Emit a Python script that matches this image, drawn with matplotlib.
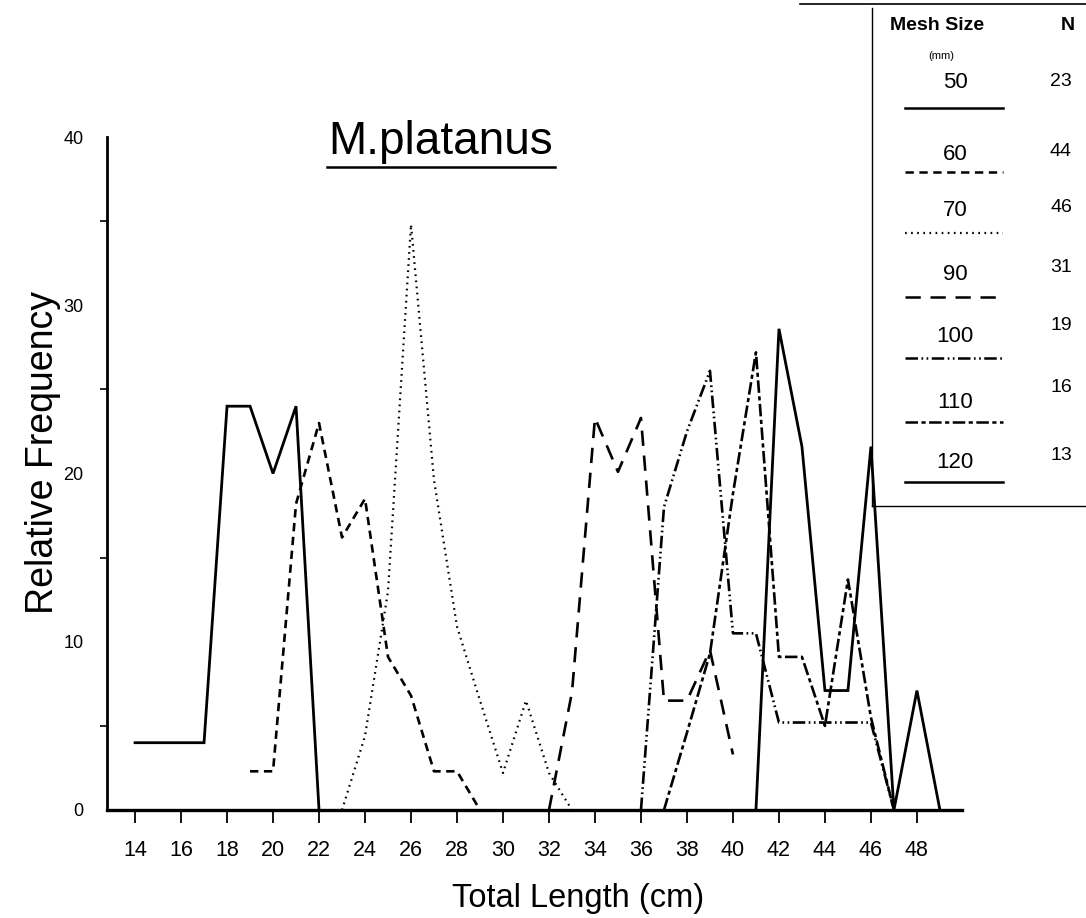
import matplotlib
matplotlib.use("Agg")
import matplotlib.pyplot as plt
from matplotlib.lines import Line2D
from matplotlib.transforms import IdentityTransform

plt.rcParams["font.family"] = ["Liberation Sans", "DejaVu Sans"]
plt.rcParams["lines.scale_dashes"] = False

# relative frequency (%) by total length (cm), one series per mesh size
len_50 = [14, 15, 16, 17, 18, 19, 20, 21, 22]
freq_50 = [4.0, 4.0, 4.0, 4.0, 24.0, 24.0, 20.0, 24.0, 0.0]
len_60 = [19, 20, 21, 22, 23, 24, 25, 26, 27, 28, 29]
freq_60 = [2.3, 2.3, 18.2, 23.0, 16.2, 18.5, 9.1, 6.8, 2.3, 2.3, 0.0]
len_70 = [23, 24, 25, 26, 27, 28, 29, 30, 31, 32, 33]
freq_70 = [0.0, 4.4, 13.0, 34.8, 19.6, 10.9, 6.5, 2.2, 6.5, 2.2, 0.0]
len_90 = [32, 33, 34, 35, 36, 37, 38, 39, 40]
freq_90 = [0.0, 7.0, 23.3, 20.1, 23.3, 6.5, 6.5, 9.5, 3.3]
len_100 = [36, 37, 38, 39, 40, 41, 42, 43, 44, 45, 46, 47]
freq_100 = [0.0, 18.0, 22.5, 26.1, 10.5, 10.5, 5.2, 5.2, 5.2, 5.2, 5.2, 0.0]
len_110 = [37, 38, 39, 40, 41, 42, 43, 44, 45, 46, 47]
freq_110 = [0.0, 4.6, 9.3, 18.8, 27.2, 9.1, 9.1, 5.0, 13.7, 5.5, 0.0]
len_120 = [41, 42, 43, 44, 45, 46, 47, 48, 49]
freq_120 = [0.0, 28.6, 21.6, 7.1, 7.1, 21.6, 0.0, 7.1, 0.0]

mesh_sizes = [50, 60, 70, 90, 100, 110, 120]
n_fish = [23, 44, 46, 31, 19, 16, 13]
x_ticks = list(range(14, 49, 2))
y_ticks = [0, 10, 20, 30, 40]

series = [(len_50, freq_50), (len_60, freq_60), (len_70, freq_70), (len_90, freq_90),
          (len_100, freq_100), (len_110, freq_110), (len_120, freq_120)]
styles = {
    50: dict(ls="-", lw=2.0),
    60: dict(ls=(0, (6, 4)), lw=1.9),
    70: dict(ls=(0, (1.2, 3.2)), lw=1.6),
    90: dict(ls=(0, (11, 7)), lw=1.9),
    100: dict(ls=(0, (9, 2.5, 1.2, 2.5, 1.2, 2.5)), lw=1.9),
    110: dict(ls=(0, (9, 2.5, 3, 2.5)), lw=1.9),
    120: dict(ls="-", lw=2.0),
}

W, H = 1086, 918
fig = plt.figure(figsize=(W / 100, H / 100), dpi=100)
ax = fig.add_axes([107 / W, 1 - 810 / H, (962 - 107) / W, (810 - 137) / H])

for m, (xs, ys) in zip(mesh_sizes, series):
    ax.plot(xs, ys, color="black", solid_joinstyle="miter", **styles[m])

ax.set_xlim(12.78, 49.96)
ax.set_ylim(0, 40)
for s in ("top", "right"):
    ax.spines[s].set_visible(False)
ax.spines["left"].set_linewidth(2.0)
ax.spines["bottom"].set_linewidth(2.4)

ax.set_xticks(x_ticks)
ax.set_xticklabels([str(v) for v in x_ticks], fontsize=15.5)
ax.tick_params(axis="x", direction="out", length=9.5, width=1.3, pad=12)
ax.set_yticks(y_ticks)
ax.set_yticklabels([str(v) for v in y_ticks], fontsize=13)
ax.tick_params(axis="y", which="major", length=0, pad=17)
ax.set_yticks([5, 15, 25, 35], minor=True)
ax.tick_params(axis="y", which="minor", direction="out", length=5, width=1.2)

fig.text(43 / W, 1 - 453 / H, "Relative Frequency", rotation=90, fontsize=27,
         ha="center", va="center")
fig.text(578 / W, 1 - 898 / H, "Total Length (cm)", fontsize=23.5, ha="center", va="center")
title = fig.text(441 / W, 1 - 142 / H, "M.platanus", fontsize=33, ha="center", va="center")

# overlay in pixel units for the key box and the title underline
ov = fig.add_axes([0, 0, 1, 1], zorder=5)
ov.set_xlim(0, W)
ov.set_ylim(H, 0)
ov.axis("off")

ov.plot([872, 872], [8, 506], color="black", lw=1.0)
ov.plot([872, W], [506, 506], color="black", lw=1.0)
ov.plot([800, W], [4, 4], color="black", lw=1.2)
ov.text(937, 25, "Mesh Size", fontsize=14, fontweight="bold", ha="center", va="center")
ov.text(1068, 25, "N", fontsize=14, fontweight="bold", ha="center", va="center")
ov.text(941, 56, "(mm)", fontsize=8, ha="center", va="center")

label_y = [82, 155, 210, 275, 337, 402, 462]
count_y = [82, 152, 208, 267, 325, 387, 455]
line_y = [108, 172, 233, 297, 358, 422, 482]
for m, n, ly, cy, sy in zip(mesh_sizes, n_fish, label_y, count_y, line_y):
    ov.text(955, ly, str(m), fontsize=16, ha="center", va="center")
    ov.text(1061, cy, str(n), fontsize=14, ha="center", va="center")
    st = dict(styles[m])
    st["lw"] = min(st["lw"], 1.8)
    ov.plot([905, 1003], [sy, sy], color="black", **st)

fig.canvas.draw()
bb = title.get_window_extent()
fig.add_artist(Line2D([bb.x0 - 2, bb.x1 + 2], [bb.y0 - 3, bb.y0 - 3], color="black",
                      lw=1.8, transform=IdentityTransform()))

fig.savefig("out.png", dpi=100)
